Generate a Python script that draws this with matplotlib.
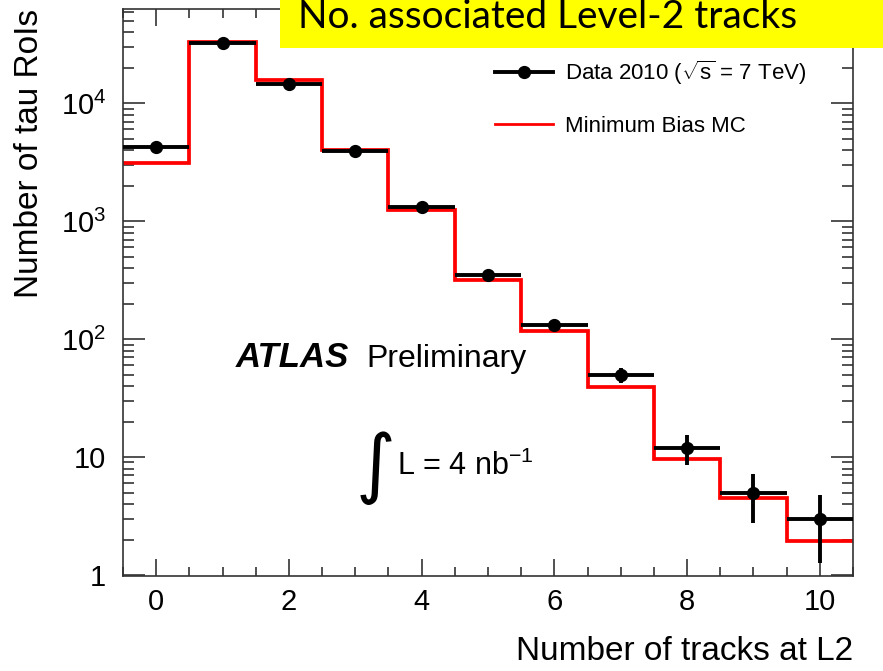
import matplotlib
matplotlib.use("Agg")
import matplotlib.pyplot as plt
import numpy as np
from matplotlib.lines import Line2D
from matplotlib.patches import Rectangle
from matplotlib.ticker import FuncFormatter, LogLocator, MultipleLocator, NullFormatter

plt.rcParams['font.family'] = ['Liberation Sans', 'DejaVu Sans']
plt.rcParams['mathtext.fontset'] = 'custom'
plt.rcParams['mathtext.rm'] = 'Liberation Sans'
plt.rcParams['mathtext.it'] = 'Liberation Sans:italic'
plt.rcParams['mathtext.bf'] = 'Liberation Sans:bold'

# tau RoIs per number of L2 tracks
n_tracks = np.arange(11)
data_2010 = [4300, 32700, 14600, 3950, 1320, 353, 133, 50, 12, 5, 3]
data_err = [66, 181, 121, 63, 36, 19, 11.5, 7.1, 3.5, 2.24, 1.73]
mc_minbias = [3100, 33100, 15800, 4000, 1250, 316, 118, 39, 9.7, 4.5, 1.96]
bin_edges = np.arange(-0.5, 11.0, 1.0)


def log_label(v, pos):
    e = int(round(np.log10(v)))
    if e == 0:
        return "1"
    if e == 1:
        return "10"
    return r"$10^{%d}$" % e


fig = plt.figure(figsize=(8.83, 6.71), dpi=100)
ax = fig.add_axes([123 / 883, 1 - 576 / 671, 730 / 883, 567 / 671])

ax.stairs(mc_minbias, bin_edges, baseline=None, color='#ff0000', lw=2.7, zorder=2)
ax.errorbar(n_tracks, data_2010, xerr=0.5, yerr=data_err, fmt='o', color='k',
            ms=8.5, elinewidth=2.8, capsize=0, zorder=3)

ax.set_yscale('log')
ax.set_xlim(-0.5, 10.5)
ax.set_ylim(0.981, 63100)

ax.xaxis.set_major_locator(MultipleLocator(2))
ax.xaxis.set_minor_locator(MultipleLocator(0.5))
ax.yaxis.set_major_locator(LogLocator(base=10, numticks=10))
ax.yaxis.set_minor_locator(LogLocator(base=10, subs=np.arange(2, 10), numticks=10))
ax.yaxis.set_major_formatter(FuncFormatter(log_label))
ax.yaxis.set_minor_formatter(NullFormatter())

ax.tick_params(which='both', direction='in', top=True, right=True, labelsize=21,
               color='#222222')
ax.tick_params(axis='x', which='major', length=12, width=1.1, pad=9)
ax.tick_params(axis='x', which='minor', length=6.5, width=1.1)
ax.tick_params(axis='y', which='major', length=16, width=1.1, pad=12)
ax.tick_params(axis='y', which='minor', length=8, width=1.1)
for sp in ax.spines.values():
    sp.set_linewidth(1.2)
    sp.set_color('#333333')

ax.set_xlabel("Number of tracks at L2", fontsize=24, loc='right')
ax.xaxis.set_label_coords(1.0, -0.106)
ax.set_ylabel("Number of tau RoIs", fontsize=24, loc='top')
ax.yaxis.set_label_coords(-0.107, 1.0)

handles = [Line2D([], [], color='k', lw=2.8, marker='o', ms=8.5),
           Line2D([], [], color='#ff0000', lw=2.0)]
labels = [r"Data 2010 ($\sqrt{\mathrm{s}}$ = 7 TeV)", "Minimum Bias MC"]
ax.legend(handles, labels, loc='upper left', bbox_to_anchor=(0.5096, 0.912),
          frameon=False, fontsize=16, handlelength=2.6, handletextpad=0.55,
          labelspacing=1.3, borderpad=0, borderaxespad=0)

ax.text(0.1548, 0.369, "ATLAS", transform=ax.transAxes, fontsize=25,
        fontweight='bold', fontstyle='italic', va='baseline')
ax.text(0.333, 0.369, "Preliminary", transform=ax.transAxes, fontsize=23,
        va='baseline')
ax.text(0.343, 0.191, r"$\int$", transform=ax.transAxes, fontsize=39,
        math_fontfamily='dejavusans', ha='center', va='center')
ax.text(0.3753, 0.178, r"L = 4 nb$^{\mathregular{-1}}$", transform=ax.transAxes,
        fontsize=22, va='baseline')

# title banner
fig.add_artist(Rectangle((280 / 883, 1 - 48 / 671), 1 - 280 / 883, 48 / 671,
                         transform=fig.transFigure, facecolor='#ffff00',
                         edgecolor='none', zorder=5))
fig.text(298 / 883, 1 - 28 / 671, "No. associated Level-2 tracks", family='Lato',
         fontsize=28, va='baseline', zorder=6)

fig.savefig("out.png", dpi=100)
